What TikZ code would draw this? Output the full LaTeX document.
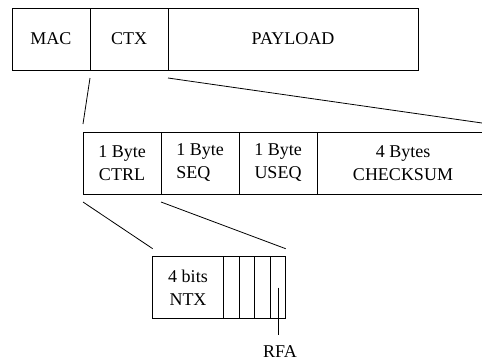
\documentclass[tikz,border=0pt]{standalone}
\usepackage{fontspec}
\setmainfont{Liberation Serif}
\usetikzlibrary{positioning}

\begin{document}
\begin{tikzpicture}[
      x=1pt, y=-1pt,
      field/.style={
         rectangle,
         draw=black,
         line width=0.8pt,
         inner sep=0pt,
         outer sep=0pt,
         minimum height=62pt,
         align=center,
         font=\fontsize{18}{23}\selectfont},
      bit/.style={field,minimum width=15.6pt},
      zoomline/.style={line width=0.8pt},
      node distance=0pt and 0pt
      ]
      \useasboundingbox (0,0) rectangle (482,360);
      % packet
      \node[field,minimum width=78pt,anchor=north west] (mac) at (12,8) {MAC};
      \node[field,minimum width=78pt,right=of mac] (ctx) {CTX};
      \node[field,minimum width=250pt,right=of ctx] (pay) {PAYLOAD};
      % context header
      \node[field,minimum width=78pt,anchor=north west] (ctrl) at (83,132) {1 Byte\\CTRL};
      \node[field,minimum width=78pt,right=of ctrl,align=left] (seq) {1 Byte\\SEQ};
      \node[field,minimum width=78pt,right=of seq] (useq) {1 Byte\\USEQ};
      \node[field,minimum width=172pt,right=of useq] (chk) {4 Bytes\\CHECKSUM};
      % control byte
      \node[field,minimum width=70.6pt,anchor=north west] (ntx) at (152.7,256.7) {4 bits\\NTX};
      \node[bit,right=of ntx] (b1) {};
      \node[bit,right=of b1] (b2) {};
      \node[bit,right=of b2] (b3) {};
      \node[bit,right=of b3] (b4) {};
      \node[font=\fontsize{18}{23}\selectfont,inner sep=0pt,anchor=base] (rfa) at (280,357.5) {RFA};

    \foreach \a/\b in {% upper corner/lower corner
      mac.south east/ctrl.north west,
      ctx.south east/chk.north east,
      ctrl.south west/ntx.north west,
      ctrl.south east/b4.north east}
       \draw [zoomline] ([yshift=-8pt]\a) -- ([yshift=8pt]\b);

    \draw [zoomline,shorten >=10.6pt] (b4.center) -- (b4.center |- rfa.north);

    \end{tikzpicture}
\end{document}
